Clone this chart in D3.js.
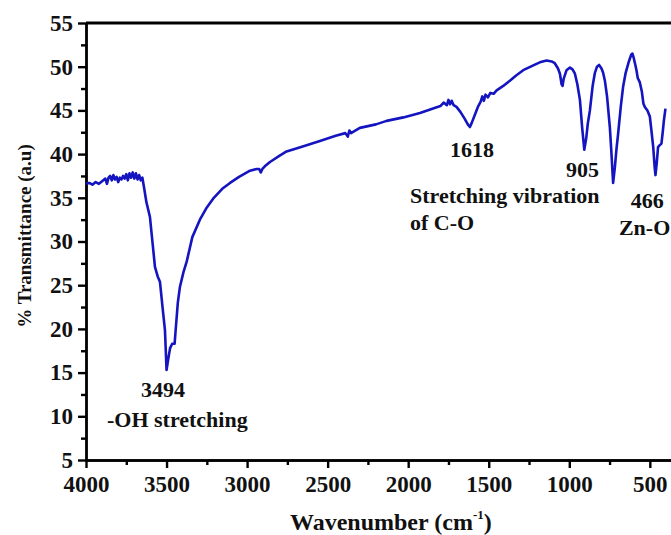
<!DOCTYPE html>
<html>
<head>
<meta charset="utf-8">
<script src="https://cdn.jsdelivr.net/npm/d3@7"></script>
<style>
    body { margin: 0; background: #fff; }
    svg text { font-family: "Liberation Serif", "Times New Roman", serif; font-weight: bold; fill: #111; }
    .axis text { font-size: 23px; }
    .axis path, .axis line { stroke: #000; stroke-width: 2.4; }
    .note { font-size: 22px; }
</style>
</head>
<body>
<div class="chart"></div>
<script>
// spectrum (wavenumber in cm-1, % transmittance)
var wavenumber = [4000, 3980, 3960, 3940, 3920, 3900, 3880, 3870, 3860, 3850, 3840, 3830, 3820, 3810, 3800,
    3790, 3780, 3770, 3760, 3750, 3740, 3730, 3720, 3710, 3700, 3690, 3680, 3670, 3660, 3650,
    3640, 3625, 3603, 3585, 3572, 3555, 3541, 3525, 3510, 3500, 3490, 3478, 3465, 3450, 3445,
    3430, 3417, 3395, 3375, 3340, 3293, 3250, 3211, 3150, 3106, 3050, 2982, 2940, 2925, 2915,
    2905, 2890, 2858, 2800, 2755, 2650, 2548, 2450, 2390, 2375, 2365, 2355, 2300, 2200, 2134,
    2030, 1927, 1850, 1800, 1780, 1760, 1750, 1740, 1730, 1718, 1700, 1675, 1648, 1630, 1617,
    1605, 1586, 1565, 1550, 1540, 1530, 1520, 1505, 1490, 1470, 1451, 1410, 1369, 1330, 1286,
    1230, 1183, 1141, 1110, 1090, 1070, 1058, 1048, 1042, 1035, 1017, 996, 980, 965, 950,
    934, 920, 907, 895, 885, 872, 855, 841, 828, 815, 800, 790, 779, 765, 748,
    738, 728, 717, 707, 697, 680, 666, 650, 630, 615, 608, 600, 590, 583, 575,
    562, 550, 540, 531, 515, 500, 489, 479, 470, 465, 457, 449, 440, 428, 420,
    413, 403];
var transmittance = [36.6, 36.7, 36.5, 36.8, 36.6, 36.9, 37.2, 36.6, 37.3, 37.5, 37.0, 37.6, 37.1, 37.4, 36.8,
    37.3, 37.1, 37.5, 37.2, 37.7, 37.0, 37.8, 37.3, 37.9, 37.2, 37.8, 37.1, 37.6, 37.0, 37.3,
    36.2, 34.5, 32.8, 29.5, 27.1, 26.0, 25.4, 22.5, 19.9, 15.3, 16.5, 17.8, 18.3, 18.3, 19.5,
    23.0, 24.8, 26.5, 27.7, 30.5, 32.5, 33.9, 34.9, 36.1, 36.7, 37.4, 38.1, 38.3, 38.3, 37.9,
    38.3, 38.6, 39.1, 39.8, 40.3, 40.9, 41.5, 42.1, 42.4, 42.0, 42.7, 42.4, 43.0, 43.4, 43.8,
    44.2, 44.7, 45.2, 45.5, 45.9, 45.6, 46.2, 45.7, 46.1, 45.6, 45.4, 44.8, 44.0, 43.4, 43.1,
    43.6, 44.5, 45.5, 46.0, 46.6, 46.1, 46.8, 46.5, 47.0, 46.9, 47.3, 47.8, 48.4, 49.0, 49.6,
    50.1, 50.5, 50.7, 50.6, 50.4, 49.8, 49.2, 48.0, 47.8, 48.6, 49.6, 49.9, 49.7, 49.2, 48.0,
    46.2, 43.0, 40.5, 41.8, 43.5, 45.0, 47.8, 49.3, 50.0, 50.2, 49.8, 49.3, 48.4, 46.5, 43.0,
    40.0, 36.7, 38.5, 40.6, 42.3, 45.5, 47.7, 49.3, 50.6, 51.4, 51.5, 51.0, 50.2, 49.6, 48.7,
    48.2, 47.2, 45.8, 45.4, 45.0, 44.3, 42.5, 40.8, 38.5, 37.6, 39.0, 40.8, 41.0, 41.2, 42.5,
    43.8, 45.2];

// tick labels
var xTicks = [4000, 3500, 3000, 2500, 2000, 1500, 1000, 500];
var yTicks = [5, 10, 15, 20, 25, 30, 35, 40, 45, 50, 55];

// peak labels (anchored in data units)
var noteText = ["3494", "-OH stretching", "1618", "905", "Stretching vibration", "of C-O", "466", "Zn-O"];
var noteX = [3522, 3870, 1741, 1021, 1989, 1989, 618, 692];
var noteY = [12.2, 8.8, 39.7, 37.4, 34.4, 31.3, 33.8, 30.7];
var noteAnchor = ["middle", "start", "start", "start", "start", "start", "start", "start"];

function drawSpectrum() {
    var margin = {top: 23, right: 0, bottom: 75, left: 86};
    var height = 535 - margin.top - margin.bottom;

    // x runs past the right edge of the window, like the cropped original
    var x = d3.scaleLinear().domain([4000, 350]).range([0, 588]);
    var y = d3.scaleLinear().domain([5, 55]).range([height, 0]);

    var svg = d3.select(".chart").append("svg")
        .attr("width", 671)
        .attr("height", 535);

    var g = svg.append("g")
        .attr("transform", `translate(${margin.left},${margin.top})`);

    // minor ticks first, majors on top
    g.append("g")
        .attr("class", "axis")
        .attr("transform", `translate(0,${height})`)
        .call(d3.axisBottom(x).tickValues(xTicks.map(d => d - 250).filter(d => d > 350))
            .tickSize(5).tickSizeOuter(0).tickFormat(""));

    g.append("g")
        .attr("class", "axis")
        .call(d3.axisLeft(y).tickValues(yTicks.slice(0, -1).map(d => d + 2.5))
            .tickSize(5).tickSizeOuter(0).tickFormat(""));

    g.append("g")
        .attr("class", "axis")
        .attr("transform", `translate(0,${height})`)
        .call(d3.axisBottom(x).tickValues(xTicks).tickSize(8).tickPadding(8)
            .tickSizeOuter(0).tickFormat(d3.format("d")));

    g.append("g")
        .attr("class", "axis")
        .call(d3.axisLeft(y).tickValues(yTicks).tickSize(8).tickPadding(5)
            .tickSizeOuter(0).tickFormat(d3.format("d")));

    // top frame line
    g.append("line")
        .attr("x1", x(4000))
        .attr("x2", x(350))
        .attr("y1", y(55))
        .attr("y2", y(55))
        .attr("stroke", "#000")
        .attr("stroke-width", 2.8);

    // the spectrum
    var points = wavenumber.map((w, i) => [w, transmittance[i]]);
    var line = d3.line()
        .x(d => x(d[0]))
        .y(d => y(d[1]));

    g.append("path")
        .datum(points)
        .attr("fill", "none")
        .attr("stroke", "#1414c0")
        .attr("stroke-width", 2.6)
        .attr("stroke-linejoin", "round")
        .attr("d", line);

    // peak labels
    g.selectAll(".note")
        .data(noteText)
        .enter()
        .append("text")
        .attr("class", "note")
        .attr("x", (d, i) => x(noteX[i]))
        .attr("y", (d, i) => y(noteY[i]))
        .attr("text-anchor", (d, i) => noteAnchor[i])
        .text(d => d);

    // axis titles
    var xTitle = svg.append("text")
        .attr("x", 290)
        .attr("y", 530)
        .style("font-size", "24px")
        .text("Wavenumber (cm");
    xTitle.append("tspan")
        .attr("dy", -11)
        .style("font-size", "13px")
        .text("-1");
    xTitle.append("tspan")
        .attr("dy", 11)
        .text(")");

    svg.append("text")
        .attr("transform", "translate(31,236) rotate(-90)")
        .attr("text-anchor", "middle")
        .style("font-size", "19px")
        .text("% Transmittance (a.u)");
}

drawSpectrum();
</script>
</body>
</html>
